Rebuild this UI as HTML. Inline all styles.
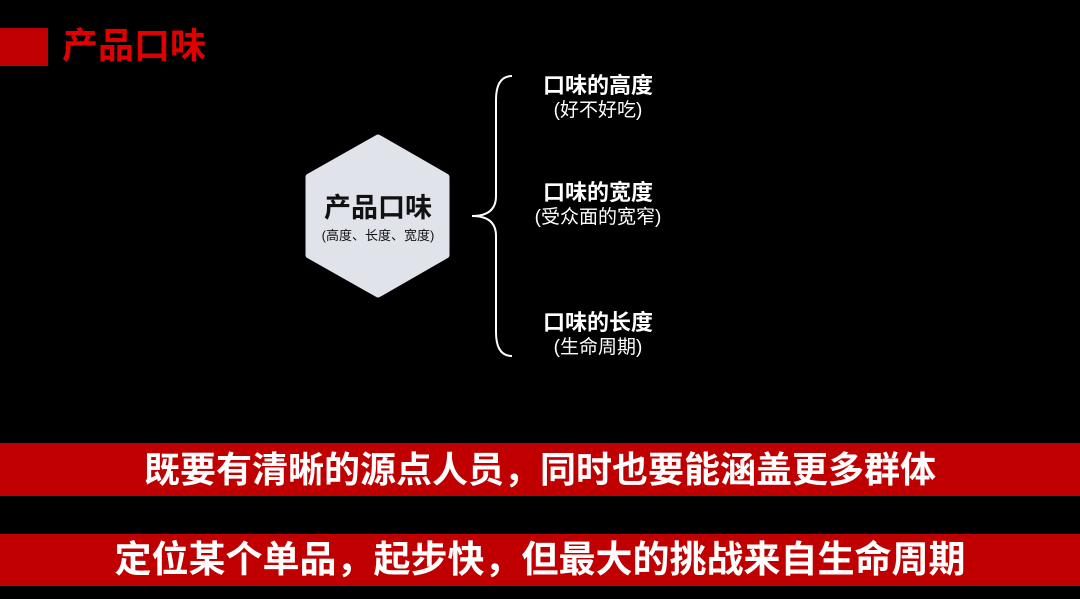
<!DOCTYPE html>
<html><head><meta charset="utf-8"><style>
body{margin:0;width:1080px;height:599px;background:#000;overflow:hidden;position:relative;font-family:"Liberation Sans","Noto Sans CJK SC",sans-serif}
.a{position:absolute}
.t{position:absolute;left:498px;width:200px;text-align:center;color:#fff;white-space:nowrap}
.h{font-size:22px;font-weight:bold}
.s{font-size:19px}
.band{position:absolute;left:0;width:1080px;background:#c00000;color:#fff;text-align:center;font-weight:bold;white-space:nowrap}
</style></head><body>
<div class="a" style="left:0;top:28px;width:48px;height:38px;background:#c00000"></div>
<div class="a" style="left:62px;top:26px;font-size:36px;font-weight:bold;color:#e00000;line-height:40px">产品口味</div>
<svg class="a" style="left:0;top:0" width="1080" height="599">
<path d="M378 138 L446 177 L446 255 L378 294 L309 255 L309 177 Z" fill="#e0e3ea" stroke="#e0e3ea" stroke-width="7" stroke-linejoin="round"/>
<path d="M512 76 Q496 76 496 100 L496 196 Q496 216 472 216 Q496 216 496 236 L496 332 Q496 356 512 356" fill="none" stroke="#fff" stroke-width="2"/>
</svg>
<div class="a" style="left:306px;top:192px;width:144px;text-align:center;font-size:27px;font-weight:bold;color:#111;line-height:32px">产品口味</div>
<div class="a" style="left:296px;top:225px;width:164px;text-align:center;font-size:13px;color:#111">(高度、长度、宽度)</div>
<div class="t h" style="top:68px">口味的高度</div>
<div class="t s" style="top:95px">(好不好吃)</div>
<div class="t h" style="top:175px">口味的宽度</div>
<div class="t s" style="top:202px">(受众面的宽窄)</div>
<div class="t h" style="top:305px">口味的长度</div>
<div class="t s" style="top:332px">(生命周期)</div>
<div class="band" style="top:443px;height:53px;line-height:53px;font-size:36px">既要有清晰的源点人员，同时也要能涵盖更多群体</div>
<div class="band" style="top:534px;height:52px;line-height:52px;font-size:37px">定位某个单品，起步快，但最大的挑战来自生命周期</div>
</body></html>
